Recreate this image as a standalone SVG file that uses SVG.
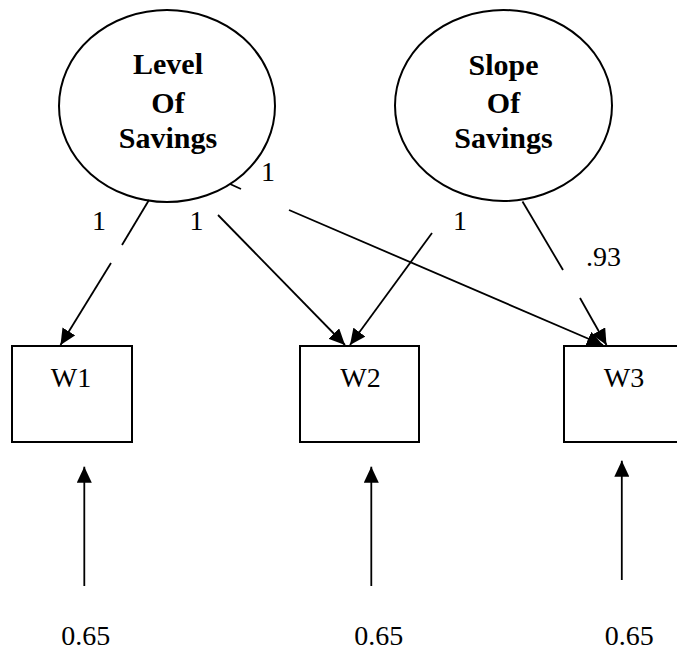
<svg xmlns="http://www.w3.org/2000/svg" width="677" height="654" viewBox="0 0 677 654">
<style>
.shape{fill:#fff;stroke:#000;stroke-width:2}
.ln{stroke:#000;stroke-width:1.8;fill:none}
</style>
<defs>
<marker id="ah" markerUnits="userSpaceOnUse" markerWidth="16" markerHeight="15" refX="16" refY="7.5" orient="auto">
<path d="M0,0 L16,7.5 L0,15 z" fill="#000"/>
</marker>
</defs>
<rect width="677" height="654" fill="#fff"/>
<g id="level" font-family="Liberation Serif" font-size="30" font-weight="bold" text-anchor="middle">
<ellipse class="shape" cx="167" cy="106" rx="108" ry="96"/>
<text x="168" y="74">Level</text>
<text x="168" y="113">Of</text>
<text x="168" y="148">Savings</text>
</g>
<g id="slope" font-family="Liberation Serif" font-size="30" font-weight="bold" text-anchor="middle">
<ellipse class="shape" cx="503.5" cy="105.5" rx="108.5" ry="95.5"/>
<text x="503.5" y="75">Slope</text>
<text x="503.5" y="113">Of</text>
<text x="503.5" y="148">Savings</text>
</g>
<g id="w1" font-family="Liberation Serif" font-size="28" text-anchor="middle">
<rect class="shape" x="12" y="346" width="120" height="96"/>
<text x="71" y="387">W1</text>
</g>
<g id="w2" font-family="Liberation Serif" font-size="28" text-anchor="middle">
<rect class="shape" x="300" y="346" width="119" height="96"/>
<text x="360.5" y="387">W2</text>
</g>
<g id="w3" font-family="Liberation Serif" font-size="28" text-anchor="middle">
<rect class="shape" x="564" y="346" width="120" height="96"/>
<text x="624" y="387">W3</text>
</g>
<g id="connectors">
<line class="ln" x1="149" y1="200" x2="122" y2="245"/>
<line class="ln" x1="111" y1="263" x2="60.5" y2="345" marker-end="url(#ah)"/>
<line class="ln" x1="218" y1="215" x2="345" y2="345" marker-end="url(#ah)"/>
<line class="ln" x1="230" y1="184" x2="241" y2="189"/>
<line class="ln" x1="289" y1="210" x2="603" y2="345" marker-end="url(#ah)"/>
<line class="ln" x1="432" y1="233" x2="350" y2="345" marker-end="url(#ah)"/>
<line class="ln" x1="522.5" y1="201.5" x2="563" y2="270"/>
<line class="ln" x1="580" y1="298" x2="606.5" y2="345" marker-end="url(#ah)"/>
<line class="ln" x1="84.3" y1="586" x2="84.3" y2="466.7" marker-end="url(#ah)"/>
<line class="ln" x1="371.3" y1="586" x2="371.3" y2="466.7" marker-end="url(#ah)"/>
<line class="ln" x1="621.8" y1="580" x2="621.8" y2="460.7" marker-end="url(#ah)"/>
</g>
<g id="labels" font-family="Liberation Serif" font-size="28" text-anchor="middle">
<text x="99" y="230">1</text>
<text x="196.5" y="230">1</text>
<text x="268" y="181">1</text>
<text x="460" y="230">1</text>
<text x="603.5" y="266">.93</text>
<text x="85.7" y="645">0.65</text>
<text x="378.7" y="645">0.65</text>
<text x="629.3" y="645">0.65</text>
</g>
</svg>
